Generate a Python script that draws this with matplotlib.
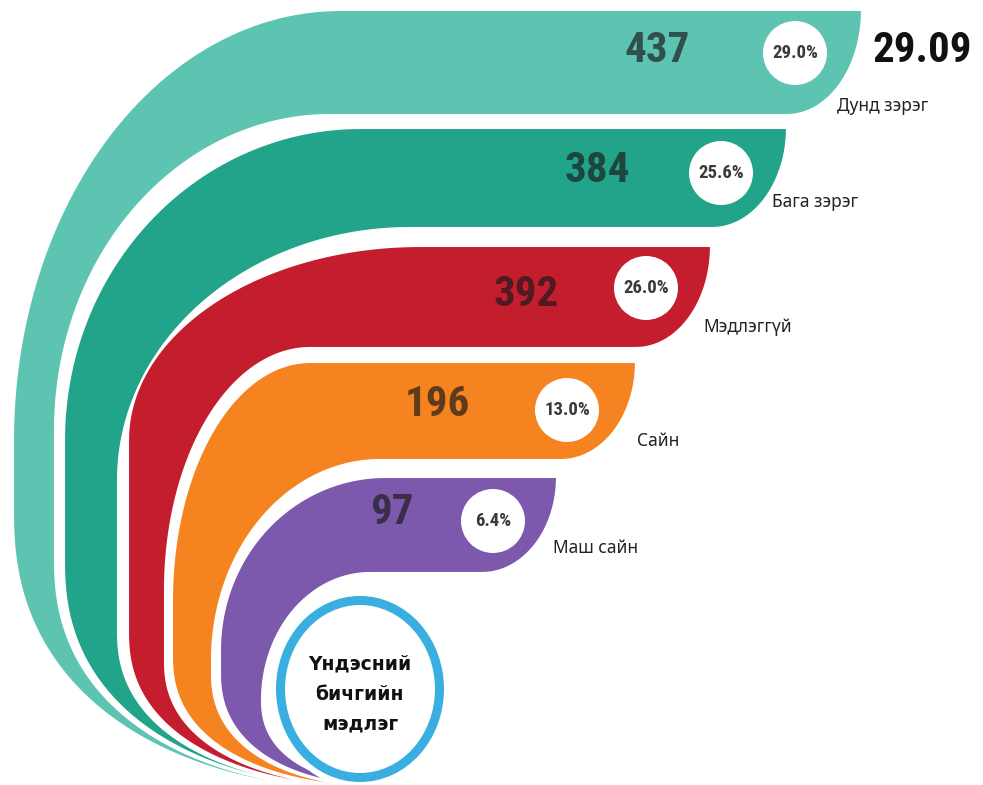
import numpy as np
import matplotlib
matplotlib.use("Agg")
import matplotlib.pyplot as plt
from matplotlib.patches import Circle, Ellipse

# ---------------- data ----------------
categories = ["Дунд зэрэг", "Бага зэрэг", "Мэдлэггүй", "Сайн", "Маш сайн"]
counts = [437, 384, 392, 196, 97]
percents = [29.0, 25.6, 26.0, 13.0, 6.4]
colors = ["#5EC4B2", "#22A48B", "#C41E2E", "#F5831F", "#7D59AE"]
center_title = "Үндэсний\nбичгийн\nмэдлэг"
corner_value = "29.09"

# ---------------- layout (pixel space) ----------------
W, H = 983, 785
band_top = [10, 128, 246, 362, 477]
band_bot = [115, 228, 348, 460, 573]
band_right = [862, 787, 711, 636, 557]
# upper corner of each edge: (x where edge becomes flat, leftmost x, y of leftmost point)
outer_edge = [(340, 13, 440), (360, 64, 440), (420, 128, 440), (310, 172, 600), (385, 220, 650)]
inner_edge = [(330, 55, 430), (410, 118, 480), (310, 165, 590), (380, 212, 660), (370, 262, 700)]
# lower sweep of each edge: (x at y=700, x at bottom of picture)
outer_tail = [(90, 288), (115, 305), (146, 322), (180, 339), (223, 356)]
inner_tail = [(108, 300), (137, 317), (172, 334), (215, 351), (262, 380)]
XC, NEXP, Y_MID = 400, 2.3, 700
cap_a = 75
value_xy = [(657, 50), (597, 170), (526, 294), (437, 404), (392, 513)]
circle_xy = [(795, 53), (721, 173), (646, 288), (567, 410), (493, 521)]
label_xy = [(837, 106), (772, 202), (703, 327), (637, 441), (553, 548)]
ring_c = (360, 689)
VAL_FONT = ["Roboto Condensed", "Liberation Sans Narrow", "Roboto", "DejaVu Sans"]
LAB_FONT = ["Noto Sans", "DejaVu Sans"]


def edge_curve(T, edge, tail):
    xt, L, yL = edge
    ph = np.linspace(0, np.pi / 2, 60)
    upper = np.column_stack([xt - (xt - L) * np.sin(ph), yL - (yL - T) * np.cos(ph)])
    a = XC - L

    def tpar(x):
        f = np.clip((XC - x) / a, 0, 1)
        return (1 - f ** NEXP) ** (1 / NEXP)

    t7, t8 = tpar(tail[0]), tpar(tail[1])
    r = t7 / t8
    yV = max((Y_MID - H * r) / (1 - r), yL)
    b = (H - yV) / t8
    th = np.linspace(0, np.pi / 2, 200)
    xs = XC - a * np.cos(th) ** (2 / NEXP)
    ys = yV + b * np.sin(th) ** (2 / NEXP)
    keep = ys <= H + 12
    lower = np.column_stack([xs[keep], ys[keep]])
    end = np.array([[lower[-1, 0], H + 30]])
    return np.vstack([upper, lower, end])


def band_poly(i):
    T, B, R = band_top[i], band_bot[i], band_right[i]
    outer = edge_curve(T, outer_edge[i], outer_tail[i])
    inner = edge_curve(B, inner_edge[i], inner_tail[i])
    th = np.linspace(0, np.pi / 2, 40)
    cap = np.column_stack([R - cap_a + cap_a * np.cos(th), T + (B - T) * np.sin(th)])
    return np.vstack([[outer[0], [R, T]], cap, inner, outer[::-1]])


fig = plt.figure(figsize=(W / 100, H / 100), dpi=100)
ax = fig.add_axes([0, 0, 1, 1])
ax.set_xlim(0, W)
ax.set_ylim(H, 0)
ax.axis("off")

for i, (cat, cnt, pct, col) in enumerate(zip(categories, counts, percents, colors)):
    poly = band_poly(i)
    ax.fill(poly[:, 0], poly[:, 1], facecolor=col, edgecolor="white", linewidth=1.5, zorder=2 + i)
    vx, vy = value_xy[i]
    ax.text(vx, vy, f"{cnt}", family=VAL_FONT, fontweight="bold", fontsize=31, color="#1a1a1a",
            alpha=0.68, ha="center", va="center", zorder=20)
    cx, cy = circle_xy[i]
    ax.add_patch(Circle((cx, cy), 32, facecolor="white", edgecolor="none", zorder=20))
    ax.text(cx, cy, f"{pct:.1f}%", family=["Roboto Condensed", "Roboto", "DejaVu Sans"],
            fontweight="bold", fontsize=13.5, color="#3a3a3a", ha="center", va="center", zorder=21)
    lx, ly = label_xy[i]
    ax.text(lx, ly, cat, family=LAB_FONT, fontsize=12.5, color="#222222",
            ha="left", va="center", zorder=21)

ax.text(872, 50, corner_value, family=VAL_FONT, fontweight="bold", fontsize=31, color="#111111",
        ha="left", va="center", zorder=21)

# central ring
ax.add_patch(Ellipse(ring_c, 2 * 90, 2 * 99, facecolor="white", edgecolor="none", zorder=15))
ax.add_patch(Ellipse(ring_c, 2 * 79.5, 2 * 88.5, facecolor="white", edgecolor="#3AAEE0",
                     linewidth=6.5, zorder=16))
ax.text(ring_c[0], ring_c[1] + 5, center_title, family=["DejaVu Sans"], fontweight="bold",
        fontsize=13.5, color="#111111", ha="center", va="center", linespacing=1.75, zorder=17)

fig.savefig("out.png", dpi=100)
